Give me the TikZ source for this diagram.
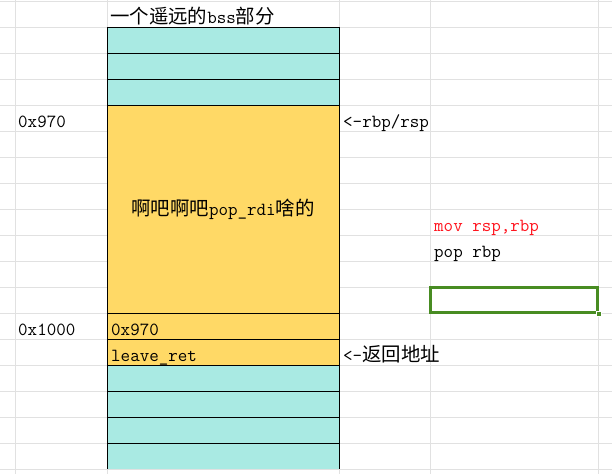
\documentclass[tikz,border=0pt]{standalone}
\usepackage{fontspec}
\newfontfamily\cjk[Scale=1.05]{Noto Sans CJK SC}
\usetikzlibrary{positioning,calc}
\definecolor{bsscol}{RGB}{169,234,227}
\definecolor{stackcol}{RGB}{255,217,102}
\definecolor{gridcol}{RGB}{225,225,225}
\definecolor{selcol}{RGB}{72,140,34}
\definecolor{redtxt}{RGB}{255,20,30}
\tikzset{
  cell/.style={
    rectangle, draw=black, line width=0.9pt,
    minimum width=232pt, minimum height=26pt,
    inner sep=0pt, outer sep=0pt
  },
  bss/.style={cell, fill=bsscol},
  stk/.style={cell, fill=stackcol},
  txt/.style={
    inner sep=0pt, anchor=base west,
    font=\ttfamily\fontsize{18.5}{20}\selectfont
  }
}

\begin{document}
\begin{tikzpicture}[x=1pt,y=-1pt]
  \useasboundingbox (0,0) rectangle (612,474);
  \clip (0,0) rectangle (612,474);
  % sheet grid
  \foreach \y in {1,27,...,469}
    \draw[gridcol,line width=1pt] (0,\y) -- (612,\y);
  \foreach \x in {15,107,339,430,598}
    \draw[gridcol,line width=1pt] (\x,0) -- (\x,474);

  % the stack column
  \node[cell, draw=none, fill=bsscol] (b7) at (223,456) {};
  \draw[line width=0.9pt] (b7.north west) -- (b7.south west)
    (b7.north east) -- (b7.south east);
  \node[bss] (b1) at (223,40) {};
  \node[bss] (b2) at (223,66) {};
  \node[bss] (b3) at (223,92) {};
  \node[stk, minimum height=208pt, font=\ttfamily\fontsize{18.5}{20}\selectfont]
    (frame) at (223,209) {{\cjk 啊吧啊吧}pop\_rdi{\cjk 啥的}};
  \node[stk] (saved) at (223,326) {};
  \node[stk] (ret) at (223,352) {};
  \foreach \i/\y in {4/378,5/404,6/430}
    \node[bss] (b\i) at (223,\y) {};

  % texts in and beside the cells
  \node[txt] (title) at ([xshift=3pt,yshift=4pt]b1.north west)
    {{\cjk 一个遥远的}bss{\cjk 部分}};
  \node[txt] (t970) at ([xshift=4pt,yshift=4pt]saved.south west) {0x970};
  \node[txt] (tret) at ([xshift=4pt,yshift=4pt]ret.south west) {leave\_ret};
  \node[txt] (a970) at (18,127) {0x970};
  \node[txt] (a1000) at (18,335) {0x1000};
  \node[txt] (prbp) at ([xshift=4pt,yshift=-22pt]frame.north east) {<-rbp/rsp};
  \node[txt] (pret) at ([xshift=4pt,yshift=4pt]ret.south east) {<-{\cjk 返回地址}};
  \node[txt, text=redtxt] (mov) at (434,231) {mov rsp,rbp};
  \node[txt] (pop) at (434,257) {pop rbp};

  % selected cell
  \node[rectangle, draw=selcol, line width=2.6pt, minimum width=167pt,
    minimum height=25pt, inner sep=0pt] (sel) at (514,300) {};
  \node[rectangle, fill=selcol, minimum size=5.5pt, inner sep=0pt,
    draw=white, line width=0.8pt] (handle) at (sel.south east) {};
\end{tikzpicture}
\end{document}
